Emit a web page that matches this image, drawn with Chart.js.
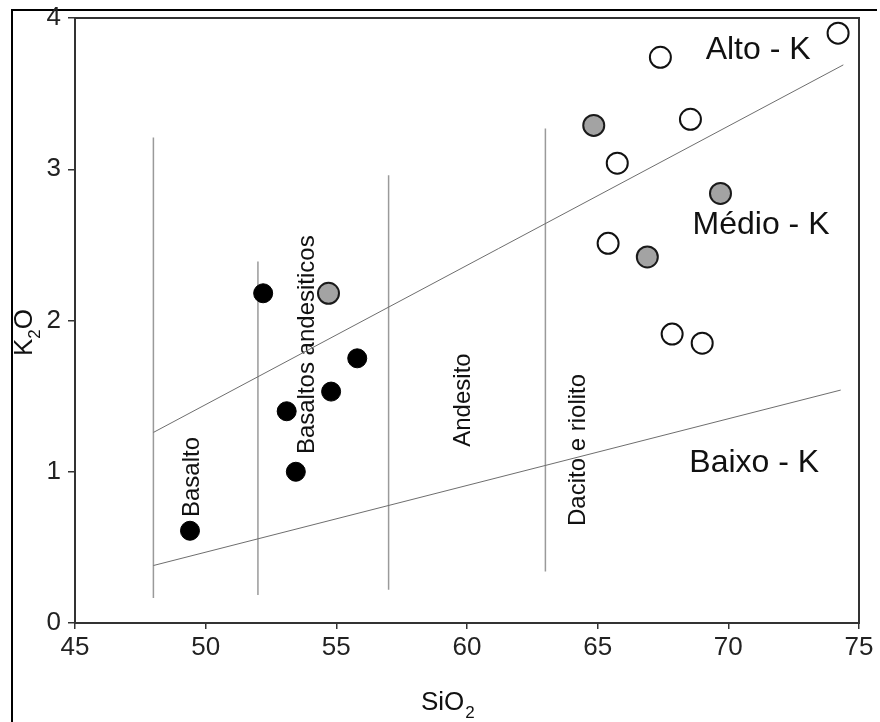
<!DOCTYPE html>
<html>
<head>
<meta charset="utf-8">
<title>K2O x SiO2</title>
<script src="https://cdn.jsdelivr.net/npm/chart.js@4.4.1/dist/chart.umd.min.js"></script>
<style>
  html, body { margin:0; padding:0; background:#fff; }
  #wrap { position:relative; width:880px; height:722px; }
  canvas { display:block; }
</style>
</head>
<body>
<div id="wrap"><canvas id="chart" width="880" height="722"></canvas></div>
<script>
/* ===== Data ===== */
// amostras pretas
const blackX = [49.4, 52.2, 53.1, 53.45, 54.8, 55.8];
const blackY = [0.61, 2.18, 1.40, 1.00, 1.53, 1.75];
// amostras cinzas
const grayX = [54.7, 64.85, 66.9, 69.7];
const grayY = [2.18, 3.29, 2.42, 2.84];
// amostras brancas
const whiteX = [67.4, 74.2, 68.55, 65.75, 65.4, 67.85, 69.0];
const whiteY = [3.74, 3.90, 3.33, 3.04, 2.51, 1.91, 1.85];

// limites Alto-K / Médio-K e Médio-K / Baixo-K
const highKX = [48, 74.4];
const highKY = [1.26, 3.69];
const lowKX = [48, 74.3];
const lowKY = [0.38, 1.54];

// divisões verticais (SiO2) e seus extremos em K2O
const dividerX = [48, 52, 57, 63];
const dividerBottom = [0.165, 0.185, 0.22, 0.34];
const dividerTop = [3.21, 2.39, 2.96, 3.27];

// eixos
const xTicks = [45, 50, 55, 60, 65, 70, 75];
const yTicks = [0, 1, 2, 3, 4];

/* ===== Text annotations (data coords) ===== */
const FONT = '"Liberation Sans", Arial, Helvetica, sans-serif';
const fieldLabels = [
  { text:'Alto - K',  x:71.14, y:3.79,  size:32, vertical:false },
  { text:'Médio - K', x:71.25, y:2.63,  size:32, vertical:false },
  { text:'Baixo - K', x:70.99, y:1.058, size:32, vertical:false },
  { text:'Basalto', x:49.48, y:0.965, size:24, vertical:true },
  { text:'Basaltos andesiticos', x:53.88, y:1.84, size:24, vertical:true },
  { text:'Andesito', x:59.85, y:1.474, size:24, vertical:true },
  { text:'Dacito e riolito', x:64.25, y:1.144, size:24, vertical:true }
];

const pts = (xs, ys) => xs.map((x, i) => ({ x, y: ys[i] }));

const datasets = [
  { label:'preto', data: pts(blackX, blackY), backgroundColor:'#000', borderColor:'#000',
    borderWidth:1, pointRadius:9.5, order:0 },
  { label:'cinza', data: pts(grayX, grayY), backgroundColor:'#a3a3a3', borderColor:'#1a1a1a',
    borderWidth:2, pointRadius:10.5, order:0 },
  { label:'branco', data: pts(whiteX, whiteY), backgroundColor:'#fff', borderColor:'#111',
    borderWidth:2, pointRadius:10.5, order:0 },
  { label:'alto-k', type:'line', data: pts(highKX, highKY), borderColor:'#6e6e6e', borderWidth:1,
    pointRadius:0, fill:false, order:1 },
  { label:'baixo-k', type:'line', data: pts(lowKX, lowKY), borderColor:'#6e6e6e', borderWidth:1,
    pointRadius:0, fill:false, order:1 }
];
dividerX.forEach((x, i) => {
  datasets.push({ label:'div'+x, type:'line',
    data:[{ x, y: dividerBottom[i] }, { x, y: dividerTop[i] }],
    borderColor:'#9a9a9a', borderWidth:1.5, pointRadius:0, fill:false, order:1 });
});

/* ===== Plugin: frame, texts, axis titles ===== */
const decor = {
  id:'decor',
  beforeDraw(chart){
    const { ctx } = chart;
    ctx.save();
    ctx.fillStyle = '#fff';
    ctx.fillRect(0, 0, chart.width, chart.height);
    // borda externa (topo e esquerda)
    ctx.strokeStyle = '#000';
    ctx.lineWidth = 2;
    ctx.beginPath();
    ctx.moveTo(12, 722); ctx.lineTo(12, 10); ctx.lineTo(877, 10);
    ctx.stroke();
    ctx.restore();
  },
  beforeDatasetsDraw(chart){
    const { ctx, scales:{ x, y } } = chart;
    ctx.save();
    ctx.fillStyle = '#111';
    ctx.textAlign = 'center';
    ctx.textBaseline = 'middle';
    fieldLabels.forEach(l => {
      const px = x.getPixelForValue(l.x), py = y.getPixelForValue(l.y);
      ctx.font = l.size + 'px ' + FONT;
      if (l.vertical) {
        ctx.save();
        ctx.translate(px, py);
        ctx.rotate(-Math.PI/2);
        ctx.fillText(l.text, 0, 0);
        ctx.restore();
      } else {
        ctx.fillText(l.text, px, py);
      }
    });
    ctx.restore();
  },
  afterDraw(chart){
    const { ctx, chartArea:a } = chart;
    ctx.save();
    // moldura do gráfico
    ctx.strokeStyle = '#333';
    ctx.lineWidth = 2;
    ctx.strokeRect(a.left, a.top, a.right - a.left, a.bottom - a.top);

    // título eixo x: SiO2
    ctx.fillStyle = '#111';
    ctx.textAlign = 'left';
    ctx.textBaseline = 'alphabetic';
    ctx.font = '26px ' + FONT;
    const sx = 421, sb = 710;
    ctx.fillText('SiO', sx, sb);
    const w = ctx.measureText('SiO').width;
    ctx.font = '17px ' + FONT;
    ctx.fillText('2', sx + w + 1, sb + 8);

    // título eixo y: K2O
    ctx.translate(32, 356);
    ctx.rotate(-Math.PI/2);
    ctx.font = '26px ' + FONT;
    ctx.fillText('K', 0, 0);
    let off = ctx.measureText('K').width;
    ctx.font = '17px ' + FONT;
    ctx.fillText('2', off, 8);
    off += ctx.measureText('2').width;
    ctx.font = '26px ' + FONT;
    ctx.fillText('O', off, 0);
    ctx.restore();
  }
};

new Chart(document.getElementById('chart'), {
  type:'scatter',
  data:{ datasets },
  options:{
    responsive:false,
    animation:false,
    layout:{ padding:{ left:0, top:18, right:21, bottom:0 } },
    plugins:{ legend:{ display:false }, tooltip:{ enabled:false } },
    scales:{
      x:{
        type:'linear', min:45, max:75,
        afterBuildTicks: s => { s.ticks = xTicks.map(v => ({ value:v })); },
        afterFit: s => { s.height = 99; s.paddingLeft = 0; s.paddingRight = 0; },
        grid:{ drawOnChartArea:false, drawTicks:true, tickLength:6, color:'#333', lineWidth:1.5 },
        border:{ display:true, color:'#333', width:2 },
        ticks:{ color:'#222', padding:3, maxRotation:0, font:{ family:FONT, size:26 } }
      },
      y:{
        type:'linear', min:0, max:4,
        afterBuildTicks: s => { s.ticks = yTicks.map(v => ({ value:v })); },
        afterFit: s => { s.width = 75; s.paddingTop = 0; s.paddingBottom = 0; },
        grid:{ drawOnChartArea:false, drawTicks:true, tickLength:7, color:'#333', lineWidth:1.5 },
        border:{ display:true, color:'#333', width:2 },
        ticks:{ color:'#222', padding:7, font:{ family:FONT, size:26 } }
      }
    }
  },
  plugins:[decor]
});
</script>
</body>
</html>
